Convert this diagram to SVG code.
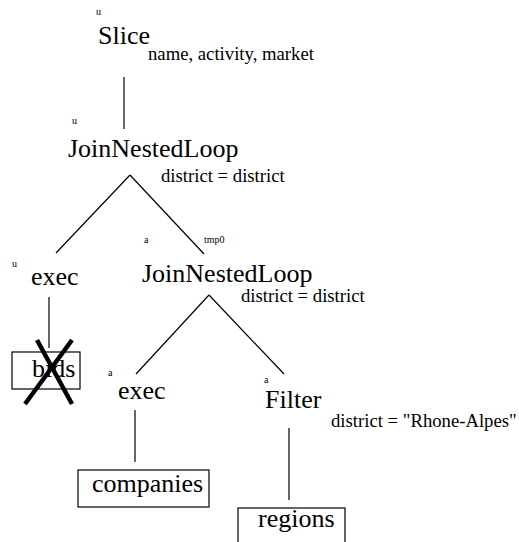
<svg xmlns="http://www.w3.org/2000/svg" width="519" height="542" viewBox="0 0 519 542">
<style>
text{font-family:"Liberation Serif","Times New Roman",serif;fill:#000}
.big{font-size:26px}
.mid{font-size:18.7px}
.tiny{font-size:10px}
line,.box{stroke:#000;stroke-width:1.2;fill:none}
.cross{stroke-width:4.5}
</style>
<rect width="519" height="542" fill="#fff"/>
<g id="connectors">
<line x1="124" y1="77" x2="124" y2="129"/>
<line x1="130" y1="175" x2="56" y2="253"/>
<line x1="130" y1="175" x2="204" y2="254"/>
<line x1="49" y1="297" x2="49" y2="348"/>
<line x1="209" y1="295" x2="136" y2="374"/>
<line x1="209" y1="295" x2="284" y2="374"/>
<line x1="135" y1="410" x2="135" y2="462"/>
<line x1="289" y1="428" x2="289" y2="500"/>
</g>
<g id="slice">
<text class="tiny" x="96" y="15">u</text>
<text class="big" x="98" y="44">Slice</text>
<text class="mid" x="148" y="60">name, activity, market</text>
</g>
<g id="join1">
<text class="tiny" x="72" y="124">u</text>
<text class="big" x="68" y="157">JoinNestedLoop</text>
<text class="mid" x="161" y="182">district = district</text>
</g>
<g id="exec1">
<text class="tiny" x="12" y="267">u</text>
<text class="big" x="31" y="285">exec</text>
</g>
<g id="bids">
<rect class="box" x="12" y="352" width="68" height="37"/>
<text class="big" x="32" y="377">bids</text>
<line class="cross" x1="37" y1="340" x2="72" y2="404"/>
<line class="cross" x1="72" y1="340" x2="25" y2="404"/>
</g>
<g id="join2">
<text class="tiny" x="144" y="243">a</text>
<text class="tiny" x="204" y="243">tmp0</text>
<text class="big" x="142" y="282">JoinNestedLoop</text>
<text class="mid" x="241" y="302">district = district</text>
</g>
<g id="exec2">
<text class="tiny" x="108" y="376">a</text>
<text class="big" x="118" y="399">exec</text>
</g>
<g id="filter">
<text class="tiny" x="264" y="383">a</text>
<text class="big" x="265" y="408">Filter</text>
<text class="mid" x="331" y="427">district = "Rhone-Alpes"</text>
</g>
<g id="companies">
<rect class="box" x="78" y="470" width="131" height="37"/>
<text class="big" x="92" y="492">companies</text>
</g>
<g id="regions">
<rect class="box" x="238" y="508" width="107" height="40"/>
<text class="big" x="258" y="527">regions</text>
</g>
</svg>
